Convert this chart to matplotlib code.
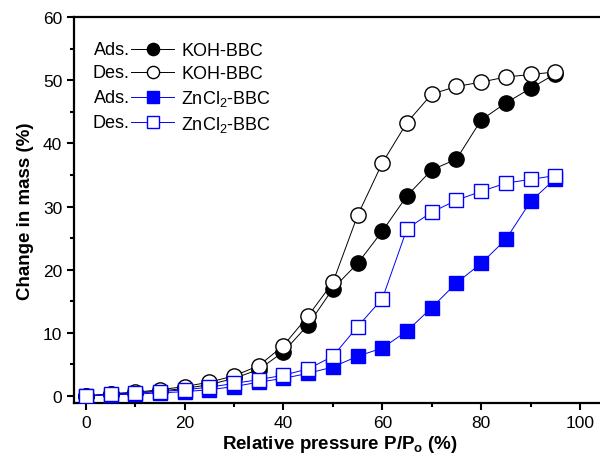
import matplotlib
matplotlib.use('Agg')
import matplotlib.pyplot as plt
from matplotlib.ticker import MultipleLocator

plt.rcParams['font.family'] = ['Liberation Sans', 'DejaVu Sans']
plt.rcParams['mathtext.fontset'] = 'custom'
plt.rcParams['mathtext.rm'] = 'Liberation Sans'
plt.rcParams['mathtext.it'] = 'Liberation Sans:italic'
plt.rcParams['mathtext.bf'] = 'Liberation Sans:bold'

# relative pressure P/Po (%)
pressure = [0, 5, 10, 15, 20, 25, 30, 35, 40, 45, 50, 55, 60, 65, 70, 75, 80, 85, 90, 95]

# change in mass (%)
koh_ads = [0.0, 0.3, 0.5, 0.8, 1.2, 1.8, 2.8, 4.2, 7.0, 11.3, 17.0, 21.0, 26.1, 31.7,
           35.8, 37.5, 43.7, 46.4, 48.7, 51.0]
koh_des = [0.0, 0.4, 0.6, 1.0, 1.5, 2.2, 3.2, 4.8, 8.0, 12.7, 18.0, 28.6, 36.9, 43.3,
           47.8, 49.0, 49.7, 50.5, 50.9, 51.3]
zn_ads = [0.0, 0.2, 0.3, 0.5, 0.7, 1.0, 1.5, 2.2, 2.8, 3.6, 4.6, 6.3, 7.6, 10.3,
          14.0, 17.9, 21.0, 24.8, 30.8, 34.4]
zn_des = [0.0, 0.3, 0.5, 0.7, 1.0, 1.4, 2.0, 2.6, 3.3, 4.3, 6.3, 11.0, 15.4, 26.5,
          29.1, 31.0, 32.4, 33.7, 34.3, 34.9]

fig = plt.figure(figsize=(6.0, 4.64), dpi=100)
ax = fig.add_axes([0.1233, 0.1293, 0.887, 0.8319])

blue = '#0000ff'
h1, = ax.plot(pressure, koh_ads, '-o', color='black', lw=0.7, ms=11,
              mfc='black', mec='black', mew=1.0, zorder=3)
h2, = ax.plot(pressure, koh_des, '-o', color='black', lw=0.7, ms=11,
              mfc='white', mec='black', mew=1.0, zorder=4)
h3, = ax.plot(pressure, zn_ads, '-s', color=blue, lw=0.7, ms=10,
              mfc=blue, mec=blue, mew=1.0, zorder=5)
h4, = ax.plot(pressure, zn_des, '-s', color=blue, lw=0.7, ms=10,
              mfc='white', mec=blue, mew=1.0, zorder=6)

ax.set_xlim(-2.4, 105.3)
ax.set_ylim(-1.1, 60)
ax.xaxis.set_major_locator(MultipleLocator(20))
ax.xaxis.set_minor_locator(MultipleLocator(10))
ax.yaxis.set_major_locator(MultipleLocator(10))
ax.yaxis.set_minor_locator(MultipleLocator(5))
ax.tick_params(which='major', direction='out', length=5, width=1.5, labelsize=12.5,
               top=False, right=False)
ax.tick_params(which='minor', direction='out', length=3, width=1.5,
               top=False, right=False)
for s in ax.spines.values():
    s.set_linewidth(1.6)
ax.spines['right'].set_visible(False)

ax.set_xlabel('Relative pressure P/P$_\\mathregular{o}$ (%)', fontsize=13.5,
              fontweight='bold', labelpad=2)
ax.set_ylabel('Change in mass (%)', fontsize=13.5, fontweight='bold', labelpad=6)

labels = ['KOH-BBC', 'KOH-BBC', 'ZnCl$_\\mathregular{2}$-BBC', 'ZnCl$_\\mathregular{2}$-BBC']
leg = ax.legend([h1, h2, h3, h4], labels, loc='upper left',
                bbox_to_anchor=(0.107, 0.934), frameon=False, fontsize=13,
                handlelength=2.4, handletextpad=0.4, labelspacing=0.32,
                borderpad=0, borderaxespad=0, markerscale=0.8)

prefix = ['Ads.', 'Des.', 'Ads.', 'Des.']
row_y = [50, 73, 98, 123]
for p, yy in zip(prefix, row_y):
    ax.text(0.105, (404 - yy) / 386.0, p, transform=ax.transAxes, ha='right',
            va='center', fontsize=13)

fig.savefig('out.png', dpi=100)
